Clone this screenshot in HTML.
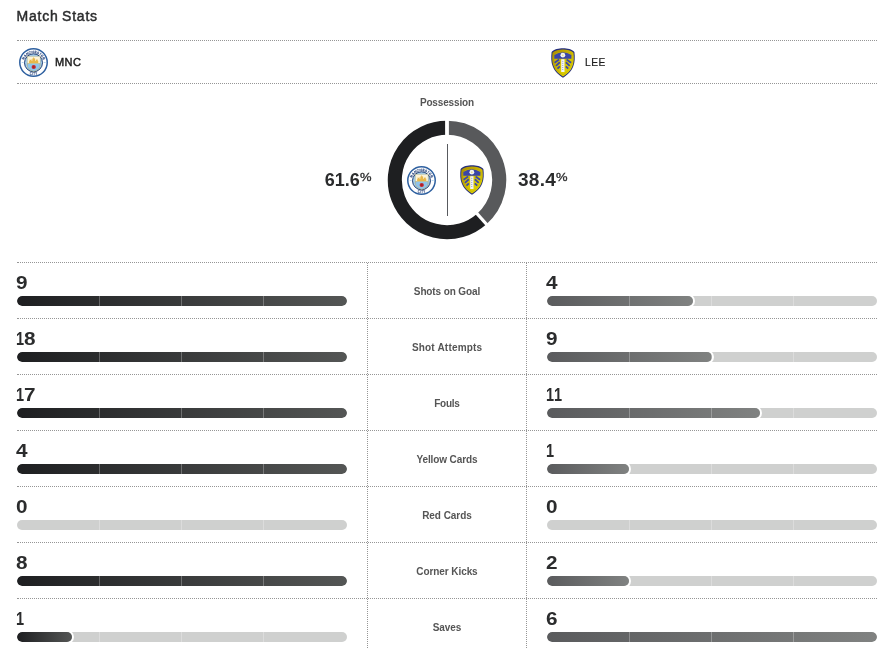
<!DOCTYPE html>
<html>
<head>
<meta charset="utf-8">
<style>
*{box-sizing:border-box;margin:0;padding:0}
html,body{width:882px;height:649px;overflow:hidden;background:#fff}
#w{position:absolute;left:0;top:0;width:882px;height:649px;will-change:transform}
body{position:relative;font-family:"Liberation Sans",sans-serif;color:#2b2c2d}
.a{position:absolute}
.title{left:16.6px;top:6px;font-size:14px;font-weight:normal;letter-spacing:0.78px;word-spacing:-1.2px;-webkit-text-stroke:0.45px #2b2c2d;line-height:20px;white-space:nowrap;color:#2b2c2d}
.hl{position:absolute;left:17px;width:860px;height:0;border-top:1px dotted #969696}
.vl{position:absolute;top:263px;width:0;height:387px;border-left:1px dotted #969696}
.abbr{font-size:11px;line-height:14px;color:#1d1d1d;white-space:nowrap}
.poss{left:367px;width:160px;text-align:center;top:96px;font-size:10px;letter-spacing:-0.15px;text-indent:-0.15px;font-weight:bold;line-height:14px;color:#555}
.pct{font-size:18px;font-weight:bold;line-height:20px;color:#2b2c2d;white-space:nowrap}
.pct sup{display:inline-block;font-size:11px;font-weight:normal;vertical-align:top;position:relative;top:0px;margin-left:0;line-height:14px;-webkit-text-stroke:0.3px #2b2c2d;transform:scaleX(1.18);transform-origin:0 0}
.num{position:absolute;font-size:18px;font-weight:bold;line-height:20px;color:#2b2c2d;transform:scaleX(1.15);transform-origin:0 0}
.lab{position:absolute;left:367px;width:160px;text-align:center;font-size:10px;font-weight:bold;line-height:14px;color:#555;white-space:nowrap}
.track{position:absolute;height:10px;width:330px;border-radius:5px;background:#cfd0cf;overflow:hidden}
.fill{position:absolute;left:0;top:0;height:10px;border-radius:5px;box-shadow:0 0 0 2px #fff}
.fl{background:linear-gradient(to right,#1e1f21,#545655)}
.fr{background:linear-gradient(to right,#5a5b5d,#808281)}
.one{display:inline-block;transform:scaleX(0.7);transform-origin:0 0;margin-right:-3px}
.dv{position:absolute;top:0;width:1px;height:10px;background:rgba(255,255,255,.27)}
</style>
</head>
<body>
<svg width="0" height="0" style="position:absolute">
<defs>
<symbol id="mci" viewBox="0 0 100 100">
<circle cx="50" cy="50" r="47.3" fill="#fff" stroke="#2e60a0" stroke-width="5.2"/>
<path id="mcarc" d="M15.5,52 A34.5,34.5 0 0 1 84.5,52" fill="none"/>
<text font-family="Liberation Sans" font-weight="bold" font-size="11.5" fill="#243f78" stroke="#243f78" stroke-width="0.35" letter-spacing="0.6"><textPath href="#mcarc" startOffset="50%" text-anchor="middle">MANCHESTER</textPath></text>
<text x="50.5" y="92" font-family="Liberation Sans" font-weight="bold" font-size="10" fill="#243f78" stroke="#243f78" stroke-width="0.2" letter-spacing="1.2" text-anchor="middle">CITY</text>
<rect x="9.5" y="49.2" width="6" height="2.2" fill="#8ec3ea"/>
<rect x="85" y="49.2" width="7" height="2.2" fill="#8ec3ea"/>
<circle cx="50" cy="51" r="31" fill="#a3cdee" stroke="#1f3d73" stroke-width="3.4"/>
<path d="M28.8,28.8 L72.8,28.8 L72.8,60 C72.8,70 62,78 50.8,81 C39.6,78 28.8,70 28.8,60 Z" fill="#8fc4ea" stroke="#c9a23a" stroke-width="1.5"/>
<path d="M29.6,29.6 L72,29.6 L72,53 L29.6,53 Z" fill="#fdf3d6"/>
<path d="M35,52 L35,44 L37,44 L37,39 L40,41 L43,38 L43,44 L46,44 L46,36 L48.5,36 L50.8,31 L53,36 L55.5,36 L55.5,44 L58.5,44 L58.5,38 L61.5,41 L64.5,39 L64.5,44 L66.5,44 L66.5,52 Z" fill="#e8b84a"/>
<path d="M28.8,53.3 L72.8,53.3" stroke="#c9a23a" stroke-width="1.4"/>
<circle cx="50.8" cy="65.5" r="7.3" fill="#c1272d"/>
<circle cx="50.8" cy="65.5" r="2.4" fill="#9c1a22"/>
</symbol>
<linearGradient id="lgold" x1="0" y1="0" x2="1" y2="1">
<stop offset="0" stop-color="#a88c00"/><stop offset="0.55" stop-color="#d2bc00"/><stop offset="1" stop-color="#f0e800"/>
</linearGradient>
<linearGradient id="lgold2" x1="0" y1="0" x2="1" y2="1">
<stop offset="0" stop-color="#c4a800"/><stop offset="1" stop-color="#e6dc00"/>
</linearGradient>
<path id="lsh" d="M40,1 C54,1 70,4 78,13 C80,30 80,48 74,62 C68,78 54,91 40,99 C26,91 12,78 6,62 C0,48 0,30 2,13 C10,4 26,1 40,1 Z"/>
<symbol id="lee" viewBox="0 0 80 100">
<use href="#lsh" fill="#252e7c"/>
<use href="#lsh" fill="url(#lgold)" transform="translate(40,50) scale(0.92) translate(-40,-50)"/>
<use href="#lsh" fill="url(#lgold2)" stroke="#8f7c10" stroke-width="1" transform="translate(40,51) scale(0.78) translate(-40,-50)"/>
<path d="M11,23 Q39.5,5 68,23 L68,35.5 L11,35.5 Z" fill="#3a45a6"/>
<circle cx="39.5" cy="24" r="8" fill="#f2f3f0"/>
<circle cx="39.5" cy="24" r="2.3" fill="#e3cf6a"/>
<rect x="34" y="37.5" width="11" height="42.5" fill="#f3f5f9"/>
<g fill="#4a56b0">
<circle cx="39.5" cy="44" r="1.6"/><circle cx="39.5" cy="51" r="1.6"/><circle cx="39.5" cy="58" r="1.6"/><circle cx="39.5" cy="65" r="1.6"/><circle cx="39.5" cy="72" r="1.6"/>
</g>
<g stroke="#3c48a8" stroke-width="6">
<line x1="12" y1="49" x2="27" y2="38.5"/>
<line x1="16.5" y1="59.5" x2="29.5" y2="47.5"/>
<line x1="21.5" y1="69" x2="29.5" y2="61"/>
<line x1="67" y1="49" x2="52" y2="38.5"/>
<line x1="62.5" y1="59.5" x2="49.5" y2="47.5"/>
<line x1="57.5" y1="69" x2="49.5" y2="61"/>
</g>
</symbol>
</defs>
</svg>

<div id="w">
<div class="a title">Match Stats</div>
<div class="hl" style="top:40px"></div>

<svg class="a" style="left:18.7px;top:47.8px" width="29" height="29"><use href="#mci"/></svg>
<div class="a abbr" style="left:55px;top:55px;letter-spacing:0.4px;-webkit-text-stroke:0.45px #1d1d1d">MNC</div>
<svg class="a" style="left:551.4px;top:47.6px" width="24" height="30"><use href="#lee"/></svg>
<div class="a abbr" style="left:585px;top:56px;font-size:10.2px;letter-spacing:0.5px;-webkit-text-stroke:0.2px #1d1d1d">LEE</div>
<div class="hl" style="top:83px"></div>

<div class="a poss">Possession</div>
<svg class="a" style="left:387.2px;top:120px" width="120" height="120" viewBox="0 0 120 120">
<path d="M94.77,98.94 A52.2,52.2 0 1 1 60.00,7.80" fill="none" stroke="#1e1f21" stroke-width="14.1"/>
<path d="M60.00,7.80 A52.2,52.2 0 0 1 94.77,98.94" fill="none" stroke="#58595b" stroke-width="14.1"/>
<line x1="60.00" y1="20.00" x2="60.00" y2="-4.00" stroke="#fff" stroke-width="3.8"/>
<line x1="86.64" y1="89.84" x2="102.62" y2="107.74" stroke="#fff" stroke-width="3.2"/>
</svg>
<div class="a" style="left:447px;top:144px;width:1px;height:72px;background:#585a5e"></div>
<svg class="a" style="left:407px;top:165.8px" width="29" height="29"><use href="#mci"/></svg>
<svg class="a" style="left:460px;top:165px" width="24" height="30"><use href="#lee"/></svg>
<div class="a pct" style="right:512.5px;top:170px">61.6<sup>%</sup></div>
<div class="a pct" style="left:518px;top:170px;font-size:19px;letter-spacing:0.3px">38.4<sup>%</sup></div>

<!--ROWS-->
<div class="hl" style="top:262px"></div>
<div class="num" style="left:16px;top:273px">9</div>
<div class="num" style="left:546px;top:273px">4</div>
<div class="lab" style="top:285px;letter-spacing:-0.12px;text-indent:-0.12px;">Shots on Goal</div>
<div class="track" style="left:17px;top:296px"><div class="fill fl" style="width:330px"></div><i class="dv" style="left:82px"></i><i class="dv" style="left:164px"></i><i class="dv" style="left:246px"></i></div>
<div class="track" style="left:547px;top:296px"><div class="fill fr" style="width:146px"></div><i class="dv" style="left:82px"></i><i class="dv" style="left:164px"></i><i class="dv" style="left:246px"></i></div>
<div class="hl" style="top:318px"></div>
<div class="num" style="left:16px;top:329px"><span class="one">1</span>8</div>
<div class="num" style="left:546px;top:329px">9</div>
<div class="lab" style="top:341px;letter-spacing:0.19px;text-indent:0.19px;">Shot Attempts</div>
<div class="track" style="left:17px;top:352px"><div class="fill fl" style="width:330px"></div><i class="dv" style="left:82px"></i><i class="dv" style="left:164px"></i><i class="dv" style="left:246px"></i></div>
<div class="track" style="left:547px;top:352px"><div class="fill fr" style="width:165px"></div><i class="dv" style="left:82px"></i><i class="dv" style="left:164px"></i><i class="dv" style="left:246px"></i></div>
<div class="hl" style="top:374px"></div>
<div class="num" style="left:16px;top:385px"><span class="one">1</span>7</div>
<div class="num" style="left:546px;top:385px"><span class="one">1</span><span class="one">1</span></div>
<div class="lab" style="top:397px;letter-spacing:-0.3px;text-indent:-0.3px;">Fouls</div>
<div class="track" style="left:17px;top:408px"><div class="fill fl" style="width:330px"></div><i class="dv" style="left:82px"></i><i class="dv" style="left:164px"></i><i class="dv" style="left:246px"></i></div>
<div class="track" style="left:547px;top:408px"><div class="fill fr" style="width:213px"></div><i class="dv" style="left:82px"></i><i class="dv" style="left:164px"></i><i class="dv" style="left:246px"></i></div>
<div class="hl" style="top:430px"></div>
<div class="num" style="left:16px;top:441px">4</div>
<div class="num" style="left:546px;top:441px"><span class="one">1</span></div>
<div class="lab" style="top:453px;letter-spacing:-0.1px;text-indent:-0.1px;">Yellow Cards</div>
<div class="track" style="left:17px;top:464px"><div class="fill fl" style="width:330px"></div><i class="dv" style="left:82px"></i><i class="dv" style="left:164px"></i><i class="dv" style="left:246px"></i></div>
<div class="track" style="left:547px;top:464px"><div class="fill fr" style="width:82px"></div><i class="dv" style="left:82px"></i><i class="dv" style="left:164px"></i><i class="dv" style="left:246px"></i></div>
<div class="hl" style="top:486px"></div>
<div class="num" style="left:16px;top:497px">0</div>
<div class="num" style="left:546px;top:497px">0</div>
<div class="lab" style="top:509px;letter-spacing:-0.04px;text-indent:-0.04px;">Red Cards</div>
<div class="track" style="left:17px;top:520px"><i class="dv" style="left:82px"></i><i class="dv" style="left:164px"></i><i class="dv" style="left:246px"></i></div>
<div class="track" style="left:547px;top:520px"><i class="dv" style="left:82px"></i><i class="dv" style="left:164px"></i><i class="dv" style="left:246px"></i></div>
<div class="hl" style="top:542px"></div>
<div class="num" style="left:16px;top:553px">8</div>
<div class="num" style="left:546px;top:553px">2</div>
<div class="lab" style="top:565px;letter-spacing:-0.08px;text-indent:-0.08px;">Corner Kicks</div>
<div class="track" style="left:17px;top:576px"><div class="fill fl" style="width:330px"></div><i class="dv" style="left:82px"></i><i class="dv" style="left:164px"></i><i class="dv" style="left:246px"></i></div>
<div class="track" style="left:547px;top:576px"><div class="fill fr" style="width:82px"></div><i class="dv" style="left:82px"></i><i class="dv" style="left:164px"></i><i class="dv" style="left:246px"></i></div>
<div class="hl" style="top:598px"></div>
<div class="num" style="left:16px;top:609px"><span class="one">1</span></div>
<div class="num" style="left:546px;top:609px">6</div>
<div class="lab" style="top:621px;letter-spacing:-0.07px;text-indent:-0.07px;">Saves</div>
<div class="track" style="left:17px;top:632px"><div class="fill fl" style="width:55px"></div><i class="dv" style="left:82px"></i><i class="dv" style="left:164px"></i><i class="dv" style="left:246px"></i></div>
<div class="track" style="left:547px;top:632px"><div class="fill fr" style="width:330px"></div><i class="dv" style="left:82px"></i><i class="dv" style="left:164px"></i><i class="dv" style="left:246px"></i></div>
<div class="vl" style="left:367px"></div>
<div class="vl" style="left:526px"></div>
<!--/ROWS-->
</div>
</body>
</html>
